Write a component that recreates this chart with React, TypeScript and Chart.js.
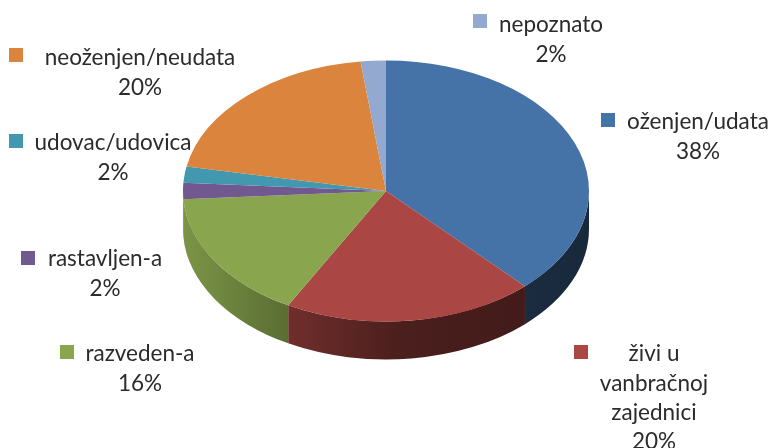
import React, { useEffect, useRef } from "react";
import { Chart, registerables } from "chart.js";

Chart.register(...registerables);

const categories = [
  ["oženjen/udata"],
  ["živi u", "vanbračnoj", "zajednici"],
  ["razveden-a"],
  ["rastavljen-a"],
  ["udovac/udovica"],
  ["neoženjen/neudata"],
  ["nepoznato"],
];
const values = [38, 20, 16, 2, 2, 20, 2];
const colors = ["#4572A7", "#AA4643", "#89A54E", "#71588F", "#4198AF", "#DB843D", "#93A9CF"];

// Label layout: swatch top-left, centre x of the text block, y of the first line
const labelLayout = [
  { sx: 601, sy: 113, cx: 698, y: 122 },
  { sx: 574, sy: 345, cx: 654, y: 354 },
  { sx: 60, sy: 345, cx: 140, y: 354 },
  { sx: 21, sy: 251, cx: 105, y: 259 },
  { sx: 9, sy: 134, cx: 113, y: 143 },
  { sx: 9, sy: 48, cx: 140, y: 58 },
  { sx: 473, sy: 14, cx: 551, y: 25 },
];
const LINE = 29.3;
const SWATCH = 14;
const FONT = "22.5px Lato, Carlito, sans-serif";
const TEXT = "#2b2b2b";

const PIE_CY = 191;
const PIE_RY = 130.5;
const DEPTH = 38;

const shade = (hex: string, f: number) => {
  const n = parseInt(hex.slice(1), 16);
  const c = [(n >> 16) & 255, (n >> 8) & 255, n & 255].map((v) => Math.round(v * f));
  return `rgb(${c[0]},${c[1]},${c[2]})`;
};

const pie3d = {
  id: "pie3d",
  beforeDatasetsDraw(chart: any) {
    const { ctx } = chart;
    const meta = chart.getDatasetMeta(0);
    const first = meta.data[0];
    const rx = first.outerRadius;
    const cx = first.x;
    const left = cx - rx;
    const w = 2 * rx;
    meta.data.forEach((arc: any, i: number) => {
      const a1 = Math.max(arc.startAngle, 0);
      const a2 = Math.min(arc.endAngle, Math.PI);
      if (a2 <= a1) return;
      const g = ctx.createLinearGradient(left, 0, left + w, 0);
      g.addColorStop(0, shade(colors[i], 0.9));
      g.addColorStop(0.26, shade(colors[i], 0.66));
      g.addColorStop(0.53, shade(colors[i], 0.44));
      g.addColorStop(1, shade(colors[i], 0.36));
      ctx.beginPath();
      ctx.ellipse(cx, PIE_CY, rx, PIE_RY, 0, a1, a2);
      ctx.ellipse(cx, PIE_CY + DEPTH, rx, PIE_RY, 0, a2, a1, true);
      ctx.closePath();
      ctx.fillStyle = g;
      ctx.fill();
    });
    ctx.save();
    ctx.translate(cx, PIE_CY);
    ctx.scale(1, PIE_RY / rx);
    ctx.translate(-cx, -first.y);
  },
  afterDatasetsDraw(chart: any) {
    chart.ctx.restore();
  },
  afterDraw(chart: any) {
    const { ctx } = chart;
    ctx.save();
    ctx.font = FONT;
    ctx.fillStyle = TEXT;
    ctx.textAlign = "center";
    ctx.textBaseline = "middle";
    categories.forEach((lines, i) => {
      const l = labelLayout[i];
      ctx.fillStyle = colors[i];
      ctx.fillRect(l.sx, l.sy, SWATCH, SWATCH);
      ctx.fillStyle = TEXT;
      [...lines, `${values[i]}%`].forEach((t, k) => ctx.fillText(t, l.cx, l.y + k * LINE));
    });
    ctx.restore();
  },
};

export default function App() {
  const ref = useRef<HTMLCanvasElement>(null);
  useEffect(() => {
    document.body.style.margin = "0";
    const chart = new Chart(ref.current!, {
      type: "pie",
      data: {
        labels: categories.map((c) => c.join(" ")),
        datasets: [{ data: values, backgroundColor: colors, borderWidth: 0 }],
      },
      options: {
        responsive: false,
        animation: false,
        layout: { padding: { top: 21, bottom: 21, left: 0, right: 0 } },
        plugins: { legend: { display: false }, tooltip: { enabled: false } },
      },
      plugins: [pie3d],
    });
    return () => chart.destroy();
  }, []);
  return <canvas ref={ref} width={772} height={448} style={{ display: "block" }} />;
}
